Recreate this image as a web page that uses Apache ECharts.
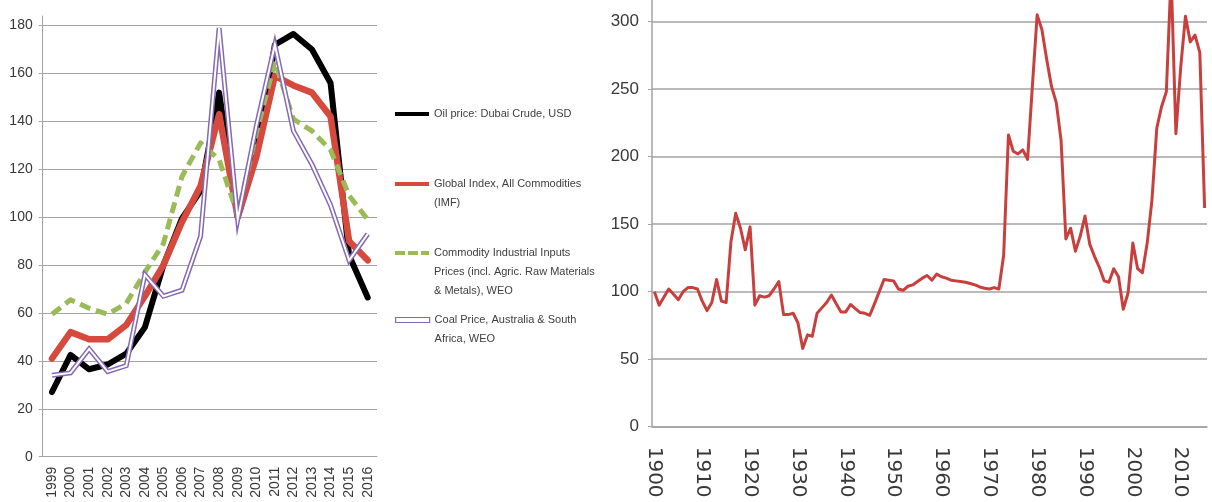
<!DOCTYPE html>
<html>
<head>
<meta charset="utf-8">
<script src="https://cdn.jsdelivr.net/npm/echarts@6/dist/echarts.min.js"></script>
<style>
  html, body { margin: 0; padding: 0; background: #fff; }
  #chart { width: 1212px; height: 502px; }
</style>
</head>
<body>
<div id="chart"></div>
<script>
// Left panel: price indices, 1999-2016
const yearsA = ['1999', '2000', '2001', '2002', '2003', '2004', '2005', '2006', '2007',
                '2008', '2009', '2010', '2011', '2012', '2013', '2014', '2015', '2016'];
const oilDubai        = [27, 42.5, 36.5, 38.5, 43, 54, 80, 99.5, 111, 152, 100, 126, 172, 176.5, 170, 156, 84, 66.5];
const globalIndex     = [41, 52, 49, 49, 55, 67, 80, 98, 113, 143, 100, 125, 159, 155, 152, 142, 90, 82];
const industrialInput = [59.5, 65.5, 62, 59.5, 64, 77, 89, 117, 131, 124, 101, 135, 165, 141, 136, 128, 109, 99];
const coalPrice       = [34, 35, 45, 35.5, 38, 76, 67, 69.5, 92, 179, 99, 138, 172, 136, 122, 105, 82, 93];

const seriesNames = [
  'Oil price: Dubai Crude, USD',
  'Global Index, All Commodities (IMF)',
  'Commodity Industrial Inputs Prices (incl. Agric. Raw Materials & Metals), WEO',
  'Coal Price, Australia & South Africa, WEO'
];
const legendLines = [
  ['Oil price: Dubai Crude, USD'],
  ['Global Index, All Commodities', '(IMF)'],
  ['Commodity Industrial Inputs', 'Prices (incl. Agric. Raw Materials', '& Metals), WEO'],
  ['Coal Price, Australia & South', 'Africa, WEO']
];

// Right panel: long-run index, 1900 = 100
const firstYearB = 1900, lastYearB = 2015;
const yearsB = [];
for (let y = firstYearB; y <= lastYearB; y++) yearsB.push(String(y));
const longRunIndex = [
  100, 90, 96, 102, 98, 94, 100, 103, 103, 102,          // 1900s
  93, 86, 92, 109, 93, 92, 137, 158, 147, 131,           // 1910s
  148, 90, 97, 96, 97, 102, 107.5, 83, 83, 84,           // 1920s
  77, 58, 68, 67, 84, 88, 92, 97.5, 91, 85,              // 1930s
  85, 90.5, 87.5, 84.5, 84, 82.5, 91, 100, 109, 108.5,   // 1940s
  108, 102, 101, 104, 105, 107.5, 110, 112, 108.5, 113,  // 1950s
  111, 110, 108.5, 108, 107.5, 107, 106, 105, 103.5, 102.5, // 1960s
  102, 103, 102, 127, 216, 204, 202, 205, 198, 252,      // 1970s
  305, 294, 272, 252, 240, 212, 139, 147, 130, 141,      // 1980s
  156, 135, 126, 118, 108, 107, 117, 111, 87, 99,        // 1990s
  136, 117, 114, 136, 168, 221, 237, 248, 335, 217,      // 2000s
  266, 304, 285, 290, 277, 162                           // 2010s
];

const gridGray = '#a3a3a3';
const labelColor = '#383838';
const sans = '"Liberation Sans", Arial, sans-serif';

const colors = ['#000000', '#d64a3e', '#9bbb59', '#8469b4'];

// Legend markers: solid bars, a dashed bar, and a hollow bar for the double line
const legendIcons = [
  'rect',
  'rect',
  'path://M0,0h10v4h-10z M13,0h10v4h-10z M26,0h8v4h-8z',
  'rect'
];

// One legend per entry; blank lines above the text keep the marker level with its first line
const legendCenters = [114, 184, 253, 320];
const lineH = 19;
const legends = legendLines.map((lines, i) => {
  const n = lines.length;
  const isCoal = i === 3;
  const itemH = isCoal ? 5 : 4;
  const item = { name: seriesNames[i], icon: legendIcons[i] };
  if (isCoal) {
    item.itemStyle = { color: '#ffffff', borderColor: colors[3], borderWidth: 1.2 };
  } else {
    item.itemStyle = { color: colors[i], borderWidth: 0 };
  }
  const text = '\n'.repeat(n - 1) + lines.join('\n');
  return {
    show: true,
    selectedMode: false,
    padding: 0,
    left: 395,
    top: legendCenters[i] - lineH * (2 * n - 1) / 2,
    itemWidth: 34,
    itemHeight: itemH,
    itemGap: 0,
    data: [item],
    formatter: () => text,
    textStyle: {
      fontFamily: sans,
      fontSize: 11,
      color: '#404040',
      lineHeight: lineH
    }
  };
});

const option = {
  animation: false,
  backgroundColor: '#ffffff',
  legend: legends,
  grid: [
    { left: 42.7, right: 835, top: 16, bottom: 45.3 },
    { left: 652, right: 5, top: 0, bottom: 75.3 }
  ],
  xAxis: [
    {
      gridIndex: 0, type: 'category', data: yearsA, boundaryGap: true,
      axisLine: { lineStyle: { color: gridGray, width: 1 } },
      axisTick: { length: 5, lineStyle: { color: gridGray } },
      axisLabel: { interval: 0, rotate: 90, margin: 10, fontSize: 14,
                   fontFamily: sans, color: labelColor }
    },
    {
      gridIndex: 1, type: 'category', data: yearsB, boundaryGap: true,
      axisLine: { lineStyle: { color: gridGray, width: 1.5 } },
      axisTick: { interval: 9, length: 8, lineStyle: { color: gridGray } },
      axisLabel: { interval: 9, rotate: -90, margin: 20, fontSize: 20,
                   fontFamily: '"DejaVu Sans", sans-serif', color: labelColor }
    }
  ],
  yAxis: [
    {
      gridIndex: 0, type: 'value', min: 0, max: 184, interval: 20,
      axisLine: { show: true, lineStyle: { color: gridGray, width: 1 } },
      axisTick: { show: true, length: 4, lineStyle: { color: gridGray } },
      splitLine: { show: true, showMaxLine: false, lineStyle: { color: gridGray, width: 1 } },
      axisLabel: { showMaxLabel: false, margin: 10, fontSize: 14, fontFamily: sans, color: labelColor }
    },
    {
      gridIndex: 1, type: 'value', min: 0, max: 316, interval: 50,
      axisLine: { show: true, lineStyle: { color: gridGray, width: 1.5 } },
      axisTick: { show: true, length: 4, lineStyle: { color: gridGray } },
      splitLine: { show: true, showMaxLine: false, lineStyle: { color: gridGray, width: 1.5 } },
      axisLabel: { showMaxLabel: false, margin: 13, fontSize: 17, fontFamily: sans, color: labelColor }
    }
  ],
  series: [
    {
      name: seriesNames[0], type: 'line', xAxisIndex: 0, yAxisIndex: 0,
      data: oilDubai, symbol: 'none', silent: true,
      itemStyle: { color: colors[0] },
      lineStyle: { color: colors[0], width: 6, join: 'round', cap: 'round' }
    },
    {
      name: seriesNames[1], type: 'line', xAxisIndex: 0, yAxisIndex: 0,
      data: globalIndex, symbol: 'none', silent: true,
      itemStyle: { color: colors[1] },
      lineStyle: { color: colors[1], width: 6.5, join: 'round', cap: 'round' }
    },
    {
      name: seriesNames[2], type: 'line', xAxisIndex: 0, yAxisIndex: 0,
      data: industrialInput, symbol: 'none', silent: true,
      itemStyle: { color: colors[2] },
      lineStyle: { color: colors[2], width: 5, type: [11, 6], join: 'round' }
    },
    {
      name: seriesNames[3], type: 'line', xAxisIndex: 0, yAxisIndex: 0,
      data: coalPrice, symbol: 'none', silent: true,
      itemStyle: { color: colors[3] },
      lineStyle: { color: colors[3], width: 5, join: 'miter' }
    },
    {
      // white core of the coal price double line
      name: 'coal-core', type: 'line', xAxisIndex: 0, yAxisIndex: 0,
      data: coalPrice, symbol: 'none', silent: true,
      lineStyle: { color: '#ffffff', width: 2, join: 'miter' }
    },
    {
      name: 'long-run', type: 'line', xAxisIndex: 1, yAxisIndex: 1,
      data: longRunIndex, symbol: 'none', silent: true,
      lineStyle: { color: '#c8403e', width: 3, join: 'round' }
    }
  ]
};

const chart = echarts.init(document.getElementById('chart'), null, { renderer: 'canvas' });
chart.setOption(option);
</script>
</body>
</html>
